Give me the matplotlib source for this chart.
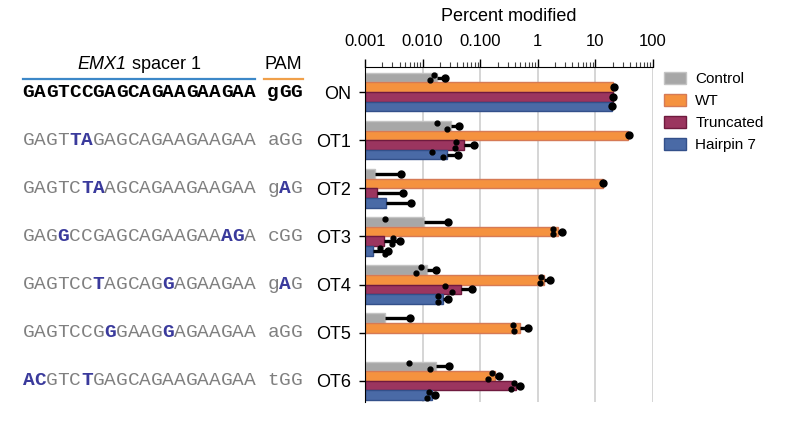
import numpy as np
import matplotlib.pyplot as plt
import matplotlib.ticker as mticker
import matplotlib.transforms as mtransforms
from matplotlib.lines import Line2D
from matplotlib.patches import Patch

plt.rcParams["font.family"] = ["Liberation Sans", "DejaVu Sans"]

targets = ["ON", "OT1", "OT2", "OT3", "OT4", "OT5", "OT6"]
spacers = [
    "GAGTCCGAGCAGAAGAAGAA",
    "GAGTTAGAGCAGAAGAAGAA",
    "GAGTCTAAGCAGAAGAAGAA",
    "GAGGCCGAGCAGAAGAAAGA",
    "GAGTCCTAGCAGGAGAAGAA",
    "GAGTCCGGGAAGGAGAAGAA",
    "ACGTCTGAGCAGAAGAAGAA",
]
pams = ["gGG", "aGG", "gAG", "cGG", "gAG", "aGG", "tGG"]
spacer_mismatch = [[], [4, 5], [5, 6], [3, 17, 18], [6, 12], [7, 12], [0, 1, 5]]
pam_mismatch = [[], [], [1], [], [1], [], []]

series = ["Control", "WT", "Truncated", "Hairpin 7"]
fills = ["#a7a7a7", "#f5923f", "#9b355f", "#4a6aa6"]
edges = ["#c4c4c4", "#d67a55", "#6f1a3e", "#33508a"]

nan = np.nan
# mean percent modified, upper end of error bar, single replicates
control_mean = [0.018, 0.031, 0.0015, 0.0104, 0.0119, 0.0022, 0.0172]
control_top = [0.0246, 0.0436, 0.0042, 0.0274, 0.0172, 0.0061, 0.029]
control_reps = [[0.0155, 0.0135], [0.0177, 0.027], [], [0.0022], [0.0094, 0.0076], [], [0.0059, 0.0135]]

wt_mean = [20.4, 37.0, 13.3, 2.2, 1.30, 0.49, 0.181]
wt_top = [21.0, 38.0, 13.7, 2.66, 1.63, 0.67, 0.215]
wt_reps = [[], [], [], [1.86, 1.82], [1.12, 1.10], [0.377, 0.38], [0.159, 0.139]]

trunc_mean = [20.0, 0.053, 0.0016, 0.0021, 0.046, nan, 0.414]
trunc_top = [20.6, 0.078, 0.0046, 0.0040, 0.073, nan, 0.49]
trunc_reps = [[], [0.0382, 0.036], [], [0.0031, 0.0030], [0.024, 0.033], [], [0.39, 0.34]]

hairpin_mean = [19.2, 0.0264, 0.0023, 0.00136, 0.0225, nan, 0.0145]
hairpin_top = [19.7, 0.041, 0.0063, 0.0025, 0.0274, nan, 0.0167]
hairpin_reps = [[], [0.0145, 0.0225], [], [0.0018, 0.0022], [0.0184, 0.0188], [], [0.013, 0.0121]]

means = [control_mean, wt_mean, trunc_mean, hairpin_mean]
tops = [control_top, wt_top, trunc_top, hairpin_top]
reps = [control_reps, wt_reps, trunc_reps, hairpin_reps]

W, H = 790, 425
fig = plt.figure(figsize=(W / 100, H / 100), dpi=100)
ax = fig.add_axes([365 / W, 1 - 402 / H, (653 - 365) / W, (402 - 67) / H])

xmin, xmax = 0.001, 100
ax.set_xscale("log")
ax.set_xlim(xmin, xmax)
ax.set_ylim(6.44, -0.52)

ypos = np.arange(len(targets))
bar_h = 0.2
offsets = (np.arange(len(series)) - 1.5) * bar_h
jitter = [-0.06, 0.06, 0.0]

for k in range(len(series)):
    for i in ypos:
        m = means[k][i]
        if np.isnan(m):
            continue
        yy = i + offsets[k]
        ax.barh(yy, m - xmin, left=xmin, height=bar_h, color=fills[k],
                edgecolor=edges[k], linewidth=1.0, zorder=2)
        t = tops[k][i]
        ax.plot([m, t], [yy, yy], color="black", lw=2.4, solid_capstyle="butt", zorder=4)
        ax.plot(t, yy, "o", color="black", ms=5, zorder=5)
        for j, r in enumerate(reps[k][i]):
            ax.plot(r, yy + jitter[j], "o", color="black", ms=3.5, zorder=5)

ax.grid(axis="x", which="major", color="#d2d2d2", lw=1.3)
ax.set_axisbelow(True)

ax.xaxis.set_label_position("top")
ax.set_xticks([0.001, 0.01, 0.1, 1, 10, 100])
ax.set_xticklabels(["0.001", "0.010", "0.100", "1", "10", "100"])
ax.xaxis.set_minor_locator(mticker.LogLocator(base=10, subs=np.arange(2, 10), numticks=100))
ax.xaxis.set_minor_formatter(mticker.NullFormatter())
ax.tick_params(axis="x", which="both", top=True, bottom=False,
               labeltop=True, labelbottom=False, direction="out")
ax.tick_params(axis="x", which="major", length=6, width=1, pad=7, labelsize=12)
ax.tick_params(axis="x", which="minor", length=3.5, width=0.8, color="#444444")
ax.set_xlabel("Percent modified", fontsize=13, labelpad=9)

ax.set_yticks(ypos)
ax.set_yticklabels(targets, fontsize=13)
ax.tick_params(axis="y", length=4, width=1, pad=6)
ax.spines[["right", "bottom"]].set_visible(False)

# sequences on the left
trans = mtransforms.blended_transform_factory(fig.transFigure, ax.transData)
x0, step = 22.7, 11.65
blue = "#3a3a9c"
for i, (seq, pam) in enumerate(zip(spacers, pams)):
    full = seq + " " + pam
    for c, ch in enumerate(full):
        if ch == " ":
            continue
        if i == 0:
            color, weight = "black", "bold"
        else:
            mm = c in spacer_mismatch[i] or (c > 20 and (c - 21) in pam_mismatch[i])
            color, weight = (blue, "bold") if mm else ("#808080", "normal")
        fig.text((x0 + c * step) / W, i + 0.095, ch, transform=trans,
                 family=["Liberation Mono", "DejaVu Sans Mono"], fontsize=14,
                 color=color, weight=weight, va="baseline", ha="left")

fig.text(126 / W, 1 - 69 / H, "EMX1", style="italic", fontsize=13, ha="right", va="baseline")
fig.text(131.5 / W, 1 - 69 / H, "spacer 1", fontsize=13, ha="left", va="baseline")
fig.text(283.5 / W, 1 - 69 / H, "PAM", fontsize=13, ha="center", va="baseline")
fig.add_artist(Line2D([22.7 / W, 255 / W], [1 - 79 / H] * 2, color="#3c88c8", lw=1.6))
fig.add_artist(Line2D([264 / W, 303 / W], [1 - 79 / H] * 2, color="#f0a04a", lw=1.6))

handles = [Patch(facecolor=f, edgecolor=e, linewidth=1.0) for f, e in zip(fills, edges)]
fig.legend(handles, series, loc="upper left", bbox_to_anchor=(664 / W, 1 - 72 / H),
           frameon=False, fontsize=11, handlelength=1.45, handleheight=0.8,
           handletextpad=0.6, labelspacing=0.52, borderpad=0, borderaxespad=0)

fig.savefig("out.png", dpi=100)
